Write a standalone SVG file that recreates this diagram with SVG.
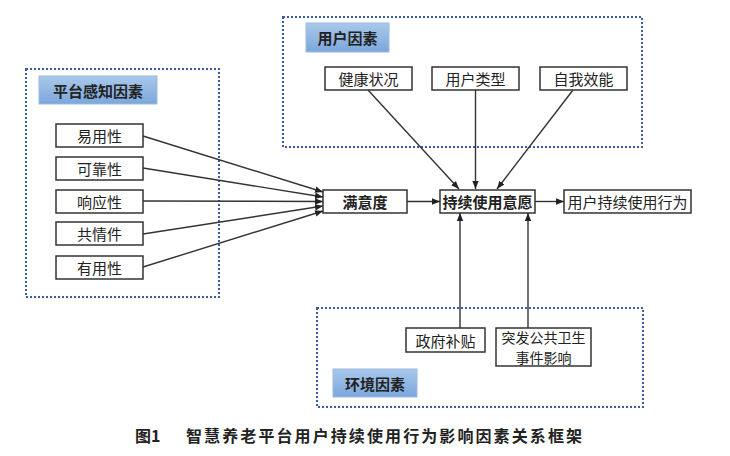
<svg xmlns="http://www.w3.org/2000/svg" width="730" height="456" viewBox="0 0 730 456">
<style>
text{font-family:"Noto Sans CJK SC","Liberation Sans",sans-serif;font-size:15px;fill:#222;text-anchor:middle;dominant-baseline:central}
.grp{fill:none;stroke:#3b5c9e;stroke-width:2;stroke-dasharray:2 2}
.lab{fill:url(#g);stroke:#9bbbe0;stroke-width:1}
.b{font-weight:bold}
.box{fill:#fff;stroke:#333;stroke-width:1.5}
.c{stroke:#333;stroke-width:1.4;fill:none}
.a{marker-end:url(#ah)}
.s{font-size:14px}
</style>
<defs>
<linearGradient id="g" x1="0" y1="0" x2="0" y2="1">
<stop offset="0" stop-color="#a9c8ea"/>
<stop offset="1" stop-color="#7ba7dc"/>
</linearGradient>
<marker id="ah" viewBox="0 0 10 10" refX="10" refY="5" markerWidth="8" markerHeight="8" markerUnits="userSpaceOnUse" orient="auto">
<path d="M0,1 L10,5 L0,9 z" fill="#222"/>
</marker>
</defs>
<g id="platform-group">
<rect class="grp" x="26" y="69" width="193" height="228"/>
<rect class="lab" x="39" y="76" width="118" height="28"/>
<text class="b" x="98" y="90">平台感知因素</text>
</g>
<g id="user-group">
<rect class="grp" x="283" y="17" width="359" height="130"/>
<rect class="lab" x="306" y="23" width="83" height="29"/>
<text class="b" x="347.5" y="37.5">用户因素</text>
</g>
<g id="env-group">
<rect class="grp" x="317" y="308" width="326" height="99"/>
<rect class="lab" x="333" y="369" width="84" height="28"/>
<text class="b" x="375" y="383">环境因素</text>
</g>
<g id="n1"><rect class="box" x="56" y="124" width="87" height="23"/><text x="99.5" y="135.5">易用性</text></g>
<g id="n2"><rect class="box" x="56" y="157" width="87" height="23"/><text x="99.5" y="168.5">可靠性</text></g>
<g id="n3"><rect class="box" x="56" y="190" width="87" height="23"/><text x="99.5" y="201.5">响应性</text></g>
<g id="n4"><rect class="box" x="56" y="222" width="87" height="23"/><text x="99.5" y="233.5">共情件</text></g>
<g id="n5"><rect class="box" x="56" y="256" width="87" height="23"/><text x="99.5" y="267.5">有用性</text></g>
<g id="n6"><rect class="box" x="325" y="67" width="87" height="23"/><text x="368.5" y="78.5">健康状况</text></g>
<g id="n7"><rect class="box" x="432" y="67" width="87" height="23"/><text x="475.5" y="78.5">用户类型</text></g>
<g id="n8"><rect class="box" x="540" y="67" width="87" height="23"/><text x="583.5" y="78.5">自我效能</text></g>
<g id="n9"><rect class="box" x="323" y="190" width="84" height="23"/><text class="b" x="365" y="201.5">满意度</text></g>
<g id="n10"><rect class="box" x="440" y="190" width="95" height="23"/><text class="b" x="487.5" y="201.5">持续使用意愿</text></g>
<g id="n11"><rect class="box" x="564" y="190" width="127" height="23"/><text x="627.5" y="201.5">用户持续使用行为</text></g>
<g id="n12"><rect class="box" x="406" y="328" width="79" height="24"/><text x="445.5" y="340">政府补贴</text></g>
<g id="n13"><rect class="box" x="496" y="328" width="95" height="38"/><text class="s" x="543.5" y="337">突发公共卫生</text><text class="s" x="543.5" y="357">事件影响</text></g>
<g id="connectors">
<path class="c a" d="M143,136 L323,192"/>
<path class="c a" d="M143,168 L323,197"/>
<path class="c a" d="M143,201 L323,201.5"/>
<path class="c a" d="M143,234 L323,206"/>
<path class="c a" d="M143,267 L323,211"/>
<path class="c a" d="M407,201.5 L440,201.5"/>
<path class="c a" d="M535,201.5 L564,201.5"/>
<path class="c a" d="M368,90 L459,189"/>
<path class="c a" d="M475.5,90 L475.5,189"/>
<path class="c a" d="M573,90 L497,189"/>
<path class="c a" d="M460,328 L460,213"/>
<path class="c a" d="M528,328 L528,213"/>
</g>
<g id="caption">
<text class="b" x="135" y="435" style="text-anchor:start;font-size:16px">图1</text>
<text class="b" x="186" y="435" style="text-anchor:start;font-size:16px" textLength="396" lengthAdjust="spacing">智慧养老平台用户持续使用行为影响因素关系框架</text>
</g>
</svg>
